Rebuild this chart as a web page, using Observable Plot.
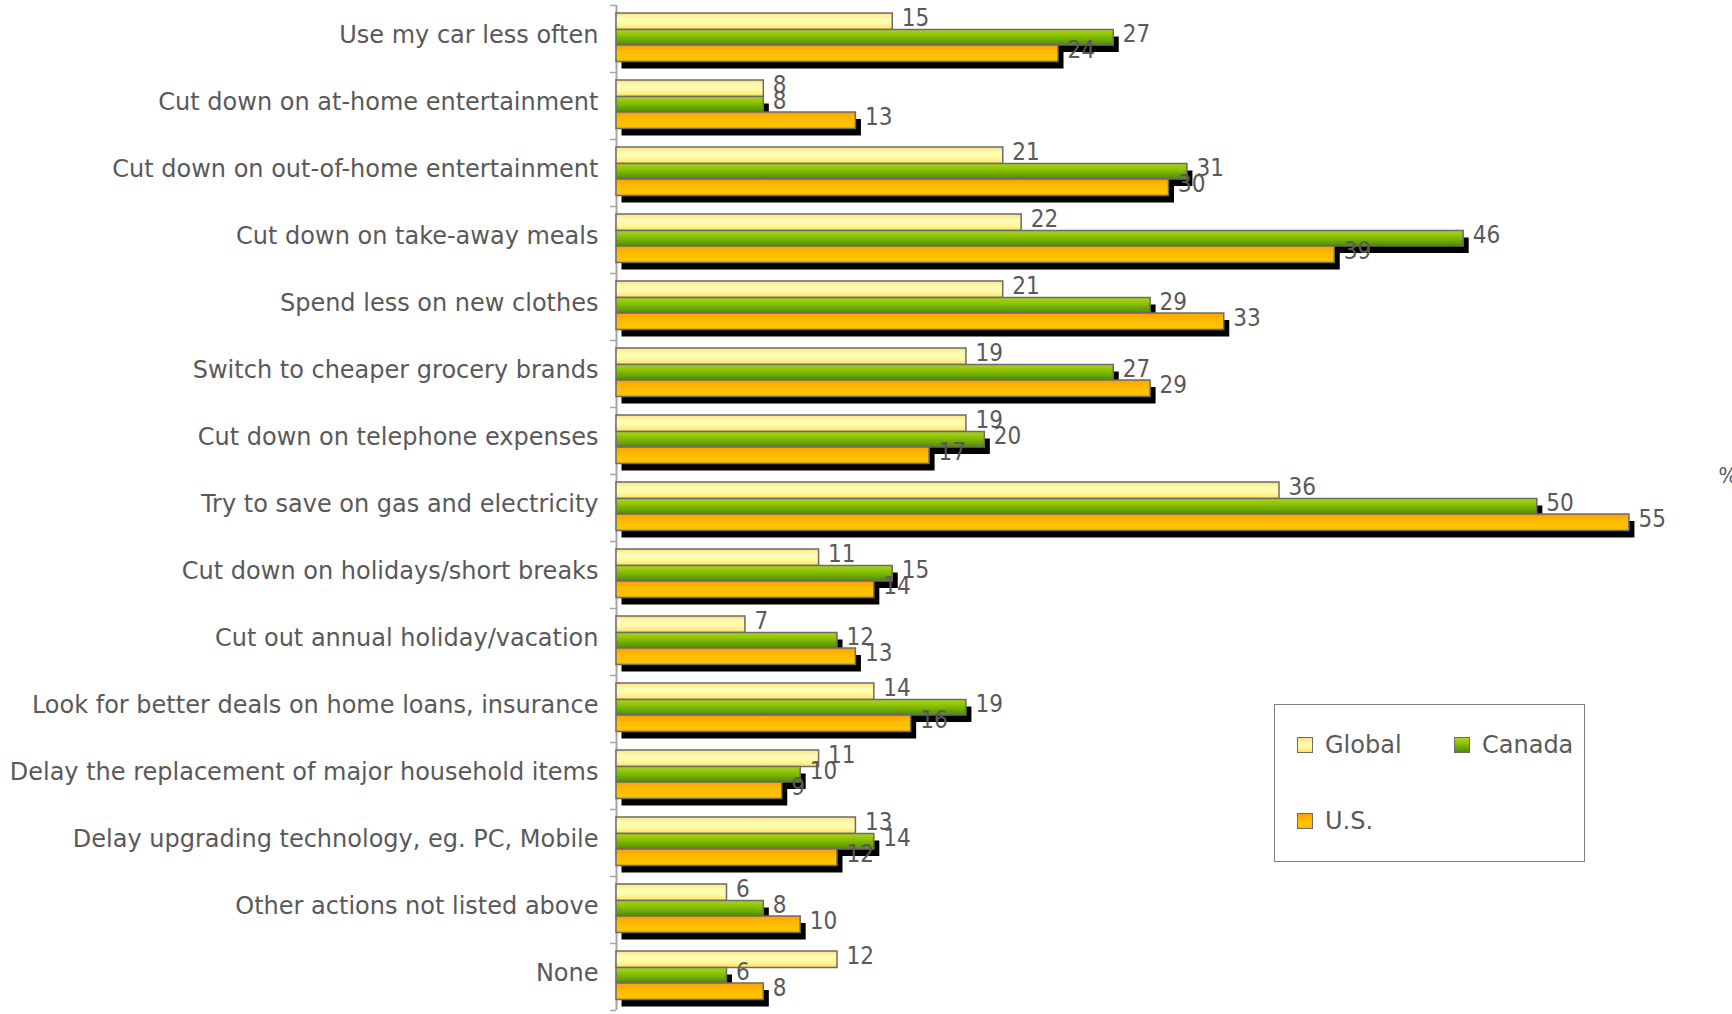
<!DOCTYPE html>
<html>
<head>
<meta charset="utf-8">
<script src="https://cdn.jsdelivr.net/npm/d3@7"></script>
<script src="https://cdn.jsdelivr.net/npm/@observablehq/plot@0.6"></script>
<style>
  html, body { margin: 0; padding: 0; background: #fff; }
  #wrap { position: relative; width: 1732px; height: 1014px; overflow: hidden; font-family: "DejaVu Sans", sans-serif; }
  #legend { position: absolute; left: 1274px; top: 704px; width: 309px; height: 156px; border: 1.5px solid #7f7f7f; background: #fff; }
  .sw { position: absolute; width: 14px; height: 14px; border: 1.5px solid #6b6b6b; }
  .lt { position: absolute; font-size: 24px; line-height: 24px; color: #595959; white-space: nowrap; }
</style>
</head>
<body>
<div id="wrap"></div>
<script>
const categories = [
  "Use my car less often",
  "Cut down on at-home entertainment",
  "Cut down on out-of-home entertainment",
  "Cut down on take-away meals",
  "Spend less on new clothes",
  "Switch to cheaper grocery brands",
  "Cut down on telephone expenses",
  "Try to save on gas and electricity",
  "Cut down on holidays/short breaks",
  "Cut out annual holiday/vacation",
  "Look for better deals on home loans, insurance",
  "Delay the replacement of major household items",
  "Delay upgrading technology, eg. PC, Mobile",
  "Other actions not listed above",
  "None"
];
const seriesNames = ["Global", "Canada", "U.S."];
const globalValues = [15, 8, 21, 22, 21, 19, 19, 36, 11, 7, 14, 11, 13, 6, 12];
const canadaValues = [27, 8, 31, 46, 29, 27, 20, 50, 15, 12, 19, 10, 14, 8, 6];
const usValues     = [24, 13, 30, 39, 33, 29, 17, 55, 14, 13, 16, 9, 12, 10, 8];
const unitLabel = "%";

const seriesValues = [globalValues, canadaValues, usValues];
const gradIds = ["gGlobal", "gCanada", "gUS"];
const rows = seriesNames.map((s, si) =>
  categories.map((c, i) => ({category: c, series: s, value: seriesValues[si][i]})));

const W = 1732, H = 1014, mt = 5, mb = 4;
const band = (H - mt - mb) / categories.length;   // 67
// vertical slots of the three bars inside a category band
const slots = [[8, 24.5], [24.5, 40], [40, 56.5]];
const textColor = "#595959";
const labelFont = "'DejaVu Sans Condensed', 'DejaVu Sans', sans-serif";

const marks = [];
// axis line and category-edge ticks
marks.push(Plot.ruleX([0], {stroke: "#a6a6a6", strokeWidth: 2}));
marks.push(Plot.ruleY(categories, {y: d => d, x1: 0, x2: 0, insetLeft: -6, dy: -band / 2, stroke: "#a6a6a6", strokeWidth: 1.5}));
marks.push(Plot.ruleY([categories[categories.length - 1]], {y: d => d, x1: 0, x2: 0, insetLeft: -6, dy: band / 2, stroke: "#a6a6a6", strokeWidth: 1.5}));

rows.forEach((data, si) => {
  const [t, b] = slots[si];
  const inset = {insetTop: t, insetBottom: band - b};
  if (si > 0) {
    marks.push(Plot.barX(data, {x: "value", y: "category", ...inset, dx: 5.5, dy: 7, fill: "#000"}));
  }
  marks.push(Plot.barX(data, {x: "value", y: "category", ...inset, fill: `url(#${gradIds[si]})`, stroke: "#6b6b6b", strokeWidth: 1.5}));
});
rows.forEach((data, si) => {
  const [t, b] = slots[si];
  const center = (t + b) / 2 - band / 2;
  marks.push(Plot.text(data, {x: "value", y: "category", text: d => String(d.value), dx: 9, dy: center - 3,
    textAnchor: "start", fill: textColor, fontSize: 24, fontFamily: labelFont}));
});
// category labels
marks.push(Plot.text(categories, {x: 0, y: d => d, text: d => d, dx: -18, dy: -4, textAnchor: "end",
  fill: textColor, fontSize: 24, fontFamily: "'DejaVu Sans', sans-serif"}));
// unit label
marks.push(Plot.text([unitLabel], {x: 60, y: () => categories[7], text: d => d, dx: -3, dy: -32, textAnchor: "start",
  fill: textColor, fontSize: 22, fontFamily: labelFont}));

const chart = Plot.plot({
  width: W, height: H,
  marginLeft: 616, marginRight: 11, marginTop: mt, marginBottom: mb,
  x: {domain: [0, 60], axis: null},
  y: {domain: categories, padding: 0, axis: null},
  style: {background: "#fff", fontFamily: "'DejaVu Sans', sans-serif", overflow: "visible"},
  marks
});

const NS = "http://www.w3.org/2000/svg";
const defs = document.createElementNS(NS, "defs");
defs.innerHTML = `
<linearGradient id="gGlobal" x1="0" y1="0" x2="0" y2="1">
  <stop offset="0" stop-color="#ffe27a"/><stop offset="0.35" stop-color="#fffcb8"/>
  <stop offset="0.65" stop-color="#fffaa0"/><stop offset="1" stop-color="#ffe066"/>
</linearGradient>
<linearGradient id="gCanada" x1="0" y1="0" x2="0" y2="1">
  <stop offset="0" stop-color="#a8d420"/><stop offset="0.3" stop-color="#94c800"/>
  <stop offset="0.7" stop-color="#6aa800"/><stop offset="1" stop-color="#4e8a00"/>
</linearGradient>
<linearGradient id="gUS" x1="0" y1="0" x2="0" y2="1">
  <stop offset="0" stop-color="#ffa000"/><stop offset="0.4" stop-color="#ffba00"/>
  <stop offset="0.8" stop-color="#ffc400"/><stop offset="1" stop-color="#ffb800"/>
</linearGradient>`;
chart.insertBefore(defs, chart.firstChild);

const wrap = document.getElementById("wrap");
wrap.appendChild(chart);

// legend
const legend = document.createElement("div");
legend.id = "legend";
const legendPos = [[22, 32], [179, 32], [22, 108]];
const swatchCss = [
  "linear-gradient(#ffe27a, #fffcb8 35%, #fffaa0 65%, #ffe066)",
  "linear-gradient(#a8d420, #94c800 30%, #6aa800 70%, #4e8a00)",
  "linear-gradient(#ffa000, #ffba00 40%, #ffc400 80%, #ffb800)"
];
seriesNames.forEach((s, i) => {
  const [lx, ty] = legendPos[i];
  const sw = document.createElement("div");
  sw.className = "sw";
  sw.style.left = lx + "px"; sw.style.top = ty + "px";
  sw.style.background = swatchCss[i];
  legend.appendChild(sw);
  const tx = document.createElement("div");
  tx.className = "lt";
  tx.style.left = (lx + 28) + "px"; tx.style.top = (ty - 4) + "px";
  tx.textContent = s;
  legend.appendChild(tx);
});
wrap.appendChild(legend);
</script>
</body>
</html>
